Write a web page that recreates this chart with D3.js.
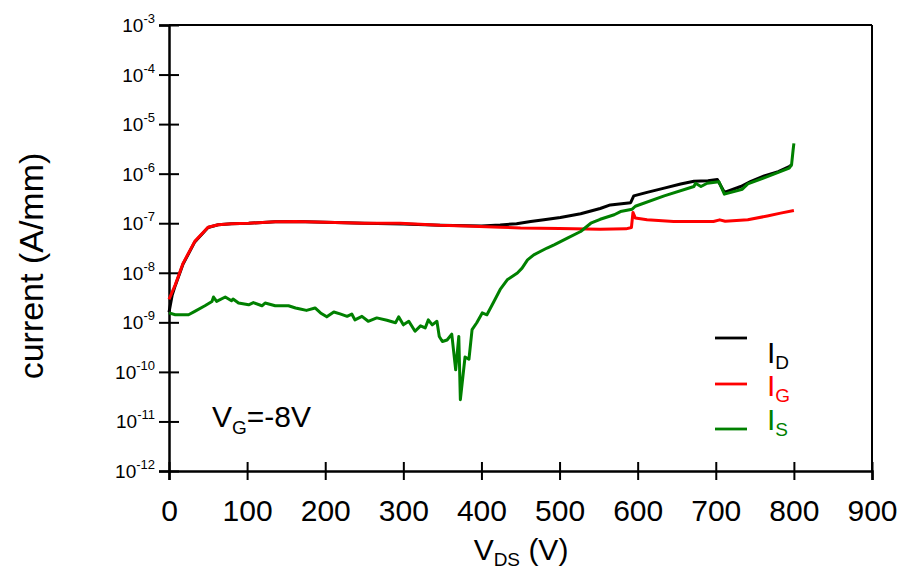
<!DOCTYPE html>
<html>
<head>
<meta charset="utf-8">
<script src="https://cdn.jsdelivr.net/npm/d3@7"></script>
<style>
  body { margin: 0; background: #fff; }
  text { font-family: "Liberation Sans", Arial, sans-serif; }
</style>
</head>
<body>
<svg id="main_svg" width="904" height="572"></svg>
<script>
// I_D (black)
const idV = [0, 4, 8, 18, 33, 50, 63, 80, 102, 136, 162, 200, 250, 300, 347, 400, 424, 445, 463, 480, 501, 527, 552, 565, 591, 595, 612, 634, 655, 672, 690, 702, 711, 732, 745, 762, 780, 794, 797];
const idI = [1.6e-9, 3.5e-9, 5.5e-9, 1.5e-8, 4.2e-8, 8.2e-8, 9.3e-8, 9.8e-8, 1.0e-7, 1.07e-7, 1.08e-7, 1.05e-7, 1.0e-7, 9.6e-8, 9.1e-8, 8.8e-8, 9.2e-8, 9.8e-8, 1.08e-7, 1.18e-7, 1.3e-7, 1.55e-7, 1.98e-7, 2.34e-7, 2.6e-7, 3.56e-7, 4.2e-7, 5.1e-7, 6.2e-7, 7.0e-7, 7.2e-7, 7.6e-7, 4.2e-7, 5.5e-7, 7.0e-7, 9.0e-7, 1.1e-6, 1.39e-6, 1.5e-6];

// I_G (red)
const igV = [0, 8, 18, 33, 50, 63, 80, 102, 136, 162, 200, 250, 296, 347, 380, 424, 450, 500, 552, 585, 592, 594, 597, 612, 646, 697, 705, 712, 741, 766, 783, 800];
const igI = [2.9e-9, 5.7e-9, 1.55e-8, 4.3e-8, 8.3e-8, 9.3e-8, 9.8e-8, 1.0e-7, 1.07e-7, 1.08e-7, 1.05e-7, 1.0e-7, 1.0e-7, 9.1e-8, 8.8e-8, 8.3e-8, 8.0e-8, 7.8e-8, 7.6e-8, 7.7e-8, 8.2e-8, 1.65e-7, 1.27e-7, 1.17e-7, 1.08e-7, 1.08e-7, 1.17e-7, 1.1e-7, 1.17e-7, 1.4e-7, 1.6e-7, 1.8e-7];

// I_S (green)
const isV = [0, 8, 25, 33, 46, 55, 57, 61, 72, 80, 82, 89, 102, 108, 119, 123, 136, 153, 162, 168, 176, 187, 194, 202, 211, 219, 228, 234, 238, 247, 255, 266, 279, 290, 294, 300, 307, 315, 322, 328, 332, 337, 343, 346, 350, 356, 362, 367, 371, 373, 379, 384, 388, 394, 401, 407, 416, 424, 433, 446, 452, 459, 467, 484, 493, 510, 527, 540, 552, 570, 578, 593, 597, 634, 672, 674, 681, 689, 704, 711, 734, 741, 766, 794, 797, 799, 800];
const isI = [1.55e-9, 1.42e-9, 1.42e-9, 1.66e-9, 2.16e-9, 2.64e-9, 3.24e-9, 2.64e-9, 3.24e-9, 2.72e-9, 2.95e-9, 2.45e-9, 2.26e-9, 2.5e-9, 2.16e-9, 2.45e-9, 2.16e-9, 2.16e-9, 1.95e-9, 1.86e-9, 1.74e-9, 1.95e-9, 1.55e-9, 1.29e-9, 1.62e-9, 1.48e-9, 1.32e-9, 1.47e-9, 1.12e-9, 1.32e-9, 1.05e-9, 1.23e-9, 1.1e-9, 9.8e-10, 1.29e-9, 8.9e-10, 1.05e-9, 6.6e-10, 8.5e-10, 7.7e-10, 1.12e-9, 8.9e-10, 1.05e-9, 5.2e-10, 4.1e-10, 4.4e-10, 5.8e-10, 1.1e-10, 5.2e-10, 2.75e-11, 2.0e-10, 1.8e-10, 7.1e-10, 9.8e-10, 1.55e-9, 1.42e-9, 2.64e-9, 4.6e-9, 7.2e-9, 9.9e-9, 1.24e-8, 1.82e-8, 2.3e-8, 3.16e-8, 3.67e-8, 5.0e-8, 6.8e-8, 1.0e-7, 1.2e-7, 1.48e-7, 1.72e-7, 1.92e-7, 2.2e-7, 3.56e-7, 5.5e-7, 6.4e-7, 5.5e-7, 6.4e-7, 6.9e-7, 3.86e-7, 4.86e-7, 6.2e-7, 8.7e-7, 1.29e-6, 1.5e-6, 3.0e-6, 4.1e-6];

const xTicks = [0, 100, 200, 300, 400, 500, 600, 700, 800, 900];
const yExps = [-12, -11, -10, -9, -8, -7, -6, -5, -4, -3];

const svg = d3.select("#main_svg");
const x = d3.scaleLinear().domain([0, 900]).range([169, 872]);
const y = d3.scaleLog().domain([1e-12, 1e-3]).range([471, 25]);

// frame
svg.append("line").attr("x1", 169).attr("x2", 872).attr("y1", 25).attr("y2", 25)
   .attr("stroke", "#000").attr("stroke-width", 2);
svg.append("line").attr("x1", 872).attr("x2", 872).attr("y1", 25).attr("y2", 471)
   .attr("stroke", "#000").attr("stroke-width", 2);

// x axis
let xAxis = svg.append("g").attr("transform", "translate(0,471)")
   .call(d3.axisBottom(x).tickValues(xTicks).tickFormat(d3.format("d")).tickSize(9));
xAxis.select(".domain").attr("stroke-width", 2.5);
xAxis.selectAll(".tick line").attr("y1", -9).attr("y2", 9).attr("stroke-width", 2);
xAxis.selectAll(".tick text").attr("y", 50).attr("dy", 0)
   .style("font-size", "30px").style("font-family", "Liberation Sans, Arial, sans-serif").attr("fill", "#000");

// y axis
let yAxis = svg.append("g").attr("transform", "translate(169,0)")
   .call(d3.axisLeft(y).tickValues(yExps.map(e => Math.pow(10, e))).tickFormat("").tickSize(10));
yAxis.select(".domain").attr("stroke-width", 2.5);
yAxis.selectAll(".tick line").attr("x1", -10).attr("x2", 10).attr("stroke-width", 2);

let yLab = svg.append("g").selectAll("text").data(yExps).enter().append("text")
   .attr("x", 155).attr("y", d => y(Math.pow(10, d)) + 7)
   .attr("text-anchor", "end").style("font-size", "19px");
yLab.append("tspan").text("10");
yLab.append("tspan").text(d => String(d)).attr("dy", -9).style("font-size", "13px");

// axis titles
svg.append("text").attr("transform", "translate(43,266) rotate(-90)")
   .attr("text-anchor", "middle").style("font-size", "34px").text("current (A/mm)");
let xt = svg.append("text").attr("x", 521).attr("y", 560).attr("text-anchor", "middle").style("font-size", "30px");
xt.append("tspan").text("V");
xt.append("tspan").text("DS").attr("dy", 6).style("font-size", "19px");
xt.append("tspan").text(" (V)").attr("dy", -6);

// curves
const series = [
    { v: idV, i: idI, color: "#000000" },
    { v: igV, i: igI, color: "#ff0000" },
    { v: isV, i: isI, color: "#008000" }
];
let line = d3.line().x(d => x(d[0])).y(d => y(d[1]));
series.forEach(s => {
    svg.append("path")
       .datum(s.v.map((v, k) => [v, s.i[k]]))
       .attr("d", line)
       .attr("fill", "none")
       .attr("stroke", s.color)
       .attr("stroke-width", 3)
       .attr("stroke-linejoin", "round");
});

// legend
const legendNames = ["D", "G", "S"];
const legendLineY = [338, 384, 429];
const legendTextY = [363, 396, 430];
series.forEach((s, k) => {
    svg.append("line").attr("x1", 715).attr("x2", 747)
       .attr("y1", legendLineY[k]).attr("y2", legendLineY[k])
       .attr("stroke", s.color).attr("stroke-width", 2.8);
    let t = svg.append("text").attr("x", 767).attr("y", legendTextY[k])
       .attr("fill", s.color).style("font-size", "30px");
    t.append("tspan").text("I");
    t.append("tspan").text(legendNames[k]).attr("dy", 6).style("font-size", "19px");
});

// V_G label
let vg = svg.append("text").attr("x", 212).attr("y", 427).style("font-size", "30px");
vg.append("tspan").text("V");
vg.append("tspan").text("G").attr("dy", 7).style("font-size", "19px");
vg.append("tspan").text("=-8V").attr("dy", -7);
</script>
</body>
</html>
